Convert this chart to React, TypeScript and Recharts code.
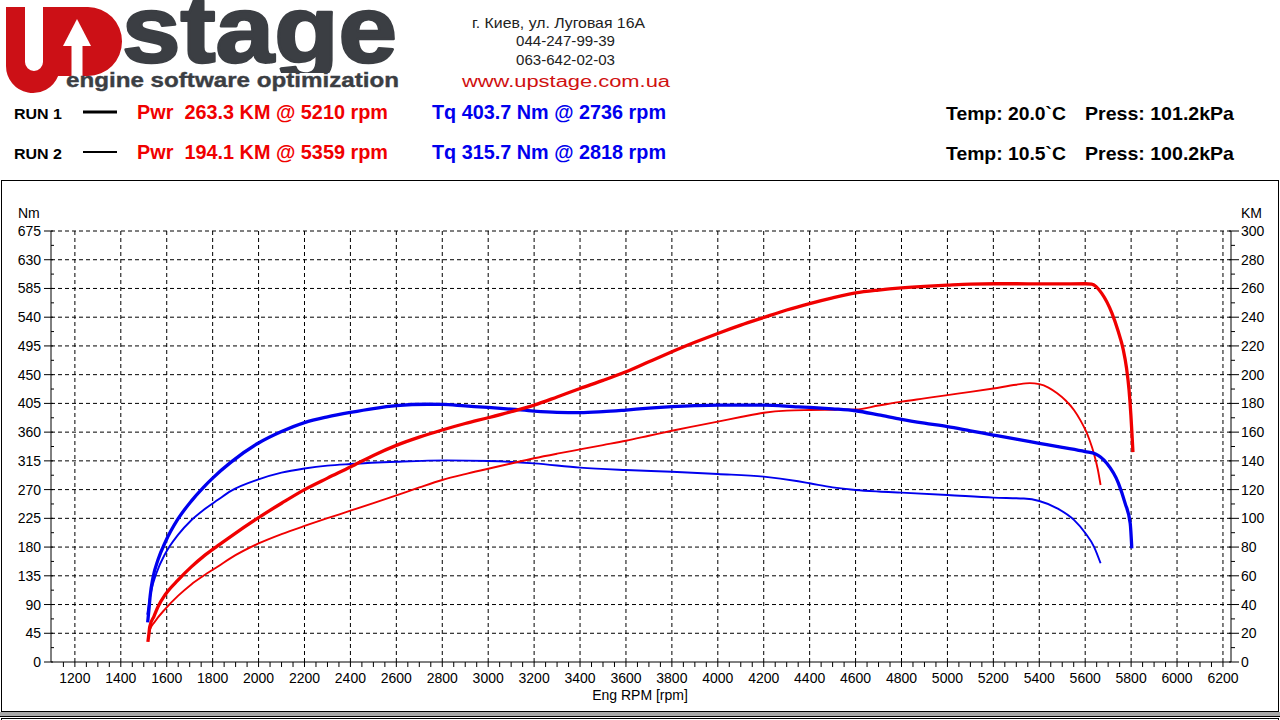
import React from 'react';
import { LineChart, Line, XAxis, YAxis, ReferenceLine } from 'recharts';

// ---------- data (rpm, value) ----------
const run1Torque: [number, number][] = [
  [1517, 62], [1522, 80], [1528, 104], [1540, 132], [1562, 160], [1594, 188], [1649, 224],
  [1707, 252], [1760, 273.5], [1800, 288], [1880, 313], [2000, 343], [2100, 361],
  [2200, 375], [2300, 384], [2400, 391], [2500, 397], [2600, 401.5], [2736, 403.7], [2800, 403.4],
  [2900, 401], [3000, 398.7], [3100, 396], [3200, 393], [3300, 391], [3400, 390.4], [3500, 392],
  [3600, 394.6], [3700, 397.5], [3800, 399.8], [3900, 401.5], [4000, 402.4], [4200, 402.4],
  [4350, 399.5], [4400, 398.7], [4500, 396.5], [4600, 393.5], [4700, 387], [4800, 380],
  [4900, 374], [5000, 368.5], [5100, 362], [5200, 355.5], [5300, 349], [5400, 342.5],
  [5500, 336], [5600, 329.4], [5645, 325.7], [5694, 311.2], [5745, 279.9], [5774, 248.5],
  [5796, 217.2], [5803, 178],
];

const run2Torque: [number, number][] = [
  [1515, 74], [1522, 90], [1533, 112], [1555, 139], [1594, 170], [1649, 199], [1707, 222],
  [1760, 238], [1823, 254], [1880, 268], [2000, 286], [2100, 296.5], [2200, 303], [2300, 307.5],
  [2400, 310], [2600, 313.5], [2818, 315.7], [3000, 314.8], [3200, 311], [3400, 304.4],
  [3600, 300.7], [3800, 298], [4000, 294.5], [4200, 290.3], [4350, 283], [4400, 279.9],
  [4500, 273.5], [4600, 269.4], [4700, 267], [4800, 265.3], [5000, 261.6], [5200, 257.4],
  [5333, 256], [5400, 252.2], [5478, 240.7], [5551, 222.5], [5601, 201.6], [5638, 180.8],
  [5667, 154.7],
];

const run1Power: [number, number][] = [
  [1518, 14], [1522, 19], [1526, 24.5], [1545, 32], [1562, 38.5], [1594, 47], [1649, 57],
  [1707, 66.2], [1760, 73.5], [1823, 81], [1880, 87.5], [2000, 100.5], [2100, 110.5],
  [2200, 120], [2300, 128], [2400, 135.7], [2500, 143.8], [2600, 150.8], [2700, 156.5],
  [2800, 161.5], [2900, 166], [3000, 170], [3100, 174.2], [3200, 178.8], [3300, 184.5],
  [3400, 190.4], [3500, 196], [3600, 202], [3700, 209], [3800, 215.9], [3900, 222.5],
  [4000, 228.7], [4100, 234.5], [4200, 239.8], [4300, 245], [4400, 249.5], [4500, 253.5],
  [4600, 256.9], [4700, 258.9], [4800, 260.4], [4900, 261.5], [5000, 262.3], [5100, 263],
  [5210, 263.3], [5300, 263.3], [5400, 263.2], [5500, 263.2], [5600, 263.3], [5628, 263],
  [5672, 256.6], [5716, 243], [5743, 230.5], [5765, 218], [5780, 204.6], [5791, 189.3],
  [5799, 171.9], [5804, 158], [5808, 146.1],
];

const run2Power: [number, number][] = [
  [1521, 17], [1526, 22], [1548, 28], [1594, 37], [1649, 46], [1707, 54], [1760, 60],
  [1823, 66.5], [1880, 72.5], [2000, 82.5], [2100, 89], [2200, 94.7], [2300, 100.1],
  [2400, 105.3], [2500, 110.6], [2600, 116], [2700, 121.5], [2800, 126.7],
  [2900, 130.8], [3000, 134.5], [3100, 138.2], [3200, 141.8], [3300, 145], [3400, 148],
  [3500, 151], [3600, 154], [3700, 157.5], [3800, 161], [3900, 164.2], [4000, 167.3],
  [4100, 170.5], [4200, 173.5], [4300, 175], [4400, 175.4], [4500, 175.6], [4600, 175.8],
  [4700, 178.5], [4800, 181.2], [4900, 183.5], [5000, 185.8], [5100, 188], [5200, 190.4],
  [5300, 193], [5359, 194.1], [5400, 193.4], [5440, 191], [5478, 187], [5515, 182],
  [5551, 175.4], [5580, 168], [5601, 161.5], [5620, 154], [5638, 145.2], [5655, 134],
  [5667, 123.2],
];

// ---------- ticks ----------
const xMajorTicks = [1200, 1400, 1600, 1800, 2000, 2200, 2400, 2600, 2800, 3000, 3200, 3400, 3600,
  3800, 4000, 4200, 4400, 4600, 4800, 5000, 5200, 5400, 5600, 5800, 6000, 6200];
const nmMajorTicks = [0, 45, 90, 135, 180, 225, 270, 315, 360, 405, 450, 495, 540, 585, 630, 675];
const kmMajorTicks = [0, 20, 40, 60, 80, 100, 120, 140, 160, 180, 200, 220, 240, 260, 280, 300];

const range = (a: number, b: number, step: number) => {
  const out: number[] = [];
  for (let i = 0; a + i * step <= b + 1e-9; i++) out.push(a + i * step);
  return out;
};
const xAllTicks = range(1150, 6200, 50);
const nmAllTicks = range(0, 675, 22.5);
const kmAllTicks = range(0, 300, 10);

// ---------- header texts ----------
const addressLines = ['г. Киев, ул. Луговая 16А', '044-247-99-39', '063-642-02-03'];
const website = 'www.upstage.com.ua';
const runLabels = ['RUN 1', 'RUN 2'];
const pwrLabels = ['Pwr  263.3 KM @ 5210 rpm', 'Pwr  194.1 KM @ 5359 rpm'];
const tqLabels = ['Tq 403.7 Nm @ 2736 rpm', 'Tq 315.7 Nm @ 2818 rpm'];
const tempLabels = ['Temp: 20.0`C', 'Temp: 10.5`C'];
const pressLabels = ['Press: 101.2kPa', 'Press: 100.2kPa'];

const FONT = '"Liberation Sans", Arial, Helvetica, sans-serif';
const RED = '#f00000';
const BLUE = '#0000ee';
const LOGO_GREY = '#3b3e43';

const toPts = (arr: [number, number][]) => arr.map(([rpm, v]) => ({ rpm, v }));

const XTick = (p: any) => {
  const { x, y, payload } = p;
  const major = xMajorTicks.includes(payload.value);
  return (
    <g>
      <line x1={x} y1={y} x2={x} y2={y + 5} stroke="#000" strokeWidth={1} />
      {major && (
        <text x={x} y={y + 21} textAnchor="middle" fontSize={14} fontFamily={FONT} fill="#000">
          {payload.value}
        </text>
      )}
    </g>
  );
};

const NmTick = (p: any) => {
  const { x, y, payload } = p;
  const major = nmMajorTicks.includes(payload.value);
  return (
    <g>
      {major ? (
        <line x1={x - 7} y1={y} x2={x + 2} y2={y} stroke="#000" strokeWidth={1} />
      ) : (
        <line x1={x} y1={y} x2={x + 3} y2={y} stroke="#000" strokeWidth={1} />
      )}
      {major && (
        <text x={x - 10} y={y + 5} textAnchor="end" fontSize={14} fontFamily={FONT} fill="#000">
          {payload.value}
        </text>
      )}
    </g>
  );
};

const KmTick = (p: any) => {
  const { x, y, payload } = p;
  const major = kmMajorTicks.includes(payload.value);
  return (
    <g>
      {major ? (
        <line x1={x - 2} y1={y} x2={x + 8} y2={y} stroke="#000" strokeWidth={1} />
      ) : (
        <line x1={x} y1={y} x2={x + 4} y2={y} stroke="#000" strokeWidth={1} />
      )}
      {major && (
        <text x={x + 10} y={y + 5} textAnchor="start" fontSize={14} fontFamily={FONT} fill="#000">
          {payload.value}
        </text>
      )}
    </g>
  );
};

const Header = () => (
  <svg width={1280} height={180} style={{ position: 'absolute', left: 0, top: 0 }}>
    <defs>
      <clipPath id="stageClip">
        <rect x={100} y={0} width={320} height={73} />
      </clipPath>
    </defs>
    {/* logo */}
    <path
      fill="#cc1016"
      d="M6 7 H25 V62 A9 9 0 0 0 43 62 V7 H88 A34 34.5 0 0 1 88 76 H58.1 A27 27 0 0 1 6 66 Z"
    />
    <polygon fill="#fff" points="77,19 63,46 91,46" />
    <rect fill="#fff" x={71.5} y={45} width={11} height={36} />
    <text
      x={122} y={62} fontSize={94} fontWeight="bold" fontFamily={FONT} fill={LOGO_GREY}
      stroke={LOGO_GREY} strokeWidth={2.5} strokeLinejoin="round"
      textLength={275} lengthAdjust="spacingAndGlyphs" clipPath="url(#stageClip)"
    >
      stage
    </text>
    <text
      x={66} y={87} fontSize={21} fontWeight="bold" fontFamily={FONT} fill={LOGO_GREY}
      stroke={LOGO_GREY} strokeWidth={0.4}
      textLength={333} lengthAdjust="spacingAndGlyphs"
    >
      engine software optimization
    </text>
    {/* address */}
    <text x={558.5} y={27.5} fontSize={15} fontFamily={FONT} fill="#222" textAnchor="middle"
      textLength={173} lengthAdjust="spacingAndGlyphs">{addressLines[0]}</text>
    <text x={565.5} y={46} fontSize={15} fontFamily={FONT} fill="#222" textAnchor="middle"
      textLength={99} lengthAdjust="spacingAndGlyphs">{addressLines[1]}</text>
    <text x={565.5} y={65} fontSize={15} fontFamily={FONT} fill="#222" textAnchor="middle"
      textLength={99} lengthAdjust="spacingAndGlyphs">{addressLines[2]}</text>
    <text x={566} y={86.5} fontSize={16} fontFamily={FONT} fill="#d01010" textAnchor="middle"
      textLength={208} lengthAdjust="spacingAndGlyphs">{website}</text>
    {/* run rows */}
    {[0, 1].map((i) => {
      const by = i === 0 ? 118.5 : 158.5;
      const ly = i === 0 ? 112 : 152;
      return (
        <g key={i}>
          <text x={14} y={by} fontSize={15.5} fontWeight="bold" fontFamily={FONT} fill="#000"
            textLength={48} lengthAdjust="spacingAndGlyphs">{runLabels[i]}</text>
          <line x1={83} x2={117} y1={ly} y2={ly} stroke="#000" strokeWidth={i === 0 ? 3 : 2} />
          <text x={137} y={by} fontSize={19.5} fontWeight="bold" fontFamily={FONT} fill={RED}
            textLength={251} lengthAdjust="spacingAndGlyphs" style={{ whiteSpace: 'pre' }}>{pwrLabels[i]}</text>
          <text x={432} y={by} fontSize={19.5} fontWeight="bold" fontFamily={FONT} fill={BLUE}
            textLength={234} lengthAdjust="spacingAndGlyphs">{tqLabels[i]}</text>
          <text x={946} y={by + 1} fontSize={19} fontWeight="bold" fontFamily={FONT} fill="#000"
            textLength={120} lengthAdjust="spacingAndGlyphs">{tempLabels[i]}</text>
          <text x={1085} y={by + 1} fontSize={19} fontWeight="bold" fontFamily={FONT} fill="#000"
            textLength={149} lengthAdjust="spacingAndGlyphs">{pressLabels[i]}</text>
        </g>
      );
    })}
  </svg>
);

export default function App() {
  return (
    <div style={{ position: 'absolute', left: 0, top: 0, width: 1280, height: 720, background: '#fff', overflow: 'hidden', fontFamily: FONT }}>
      <Header />
      {/* chart frame */}
      <div style={{ position: 'absolute', left: 1, top: 180, width: 1278, height: 532, border: '1px solid #000', boxSizing: 'border-box' }} />
      <div style={{ position: 'absolute', left: 0, top: 712, width: 1280, height: 4, background: '#a8a8a8' }} />
      <div style={{ position: 'absolute', left: 0, top: 716, width: 1280, height: 1, background: '#000' }} />
      <div style={{ position: 'absolute', left: 1, top: 718, width: 1278, height: 4, borderTop: '1px solid #000', borderLeft: '1px solid #000', borderRight: '1px solid #000', boxSizing: 'border-box' }} />
      {/* axis titles */}
      <div style={{ position: 'absolute', left: 18, top: 205, fontSize: 14, color: '#000' }}>Nm</div>
      <div style={{ position: 'absolute', left: 1241, top: 205, fontSize: 14, color: '#000' }}>KM</div>
      <div style={{ position: 'absolute', left: 0, width: 1280, textAlign: 'center', top: 687, fontSize: 14, color: '#000' }}>Eng RPM [rpm]</div>
      <div style={{ position: 'absolute', left: 0, top: 180 }}>
        <LineChart width={1280} height={532} margin={{ top: 51, right: 0, bottom: 0, left: 0 }}>
          <XAxis
            xAxisId={0}
            type="number"
            dataKey="rpm"
            domain={[1096, 6235]}
            ticks={xAllTicks}
            interval={0}
            height={50}
            tickSize={0}
            tickMargin={0}
            tickLine={false}
            axisLine={{ stroke: '#000', strokeWidth: 1 }}
            tick={(p: any) => <XTick {...p} />}
            allowDataOverflow
          />
          <YAxis
            yAxisId="nm"
            orientation="left"
            type="number"
            domain={[0, 675]}
            ticks={nmAllTicks}
            interval={0}
            width={51}
            tickSize={0}
            tickMargin={0}
            tickLine={false}
            axisLine={{ stroke: '#000', strokeWidth: 1 }}
            tick={(p: any) => <NmTick {...p} />}
            allowDataOverflow
          />
          <YAxis
            yAxisId="km"
            orientation="right"
            type="number"
            domain={[0, 300]}
            ticks={kmAllTicks}
            interval={0}
            width={49}
            tickSize={0}
            tickMargin={0}
            tickLine={false}
            axisLine={{ stroke: '#000', strokeWidth: 1 }}
            tick={(p: any) => <KmTick {...p} />}
            allowDataOverflow
          />
          {nmMajorTicks.filter((v) => v > 0).map((v) => (
            <ReferenceLine key={'h' + v} yAxisId="nm" y={v} stroke="#000" strokeWidth={1} strokeDasharray="4 3" />
          ))}
          {xMajorTicks.map((v) => (
            <ReferenceLine key={'v' + v} yAxisId="nm" x={v} stroke="#000" strokeWidth={1} strokeDasharray="4 3" />
          ))}
          <Line data={toPts(run2Torque)} yAxisId="nm" dataKey="v" type="monotone" stroke={BLUE} strokeWidth={1.9} dot={false} isAnimationActive={false} />
          <Line data={toPts(run2Power)} yAxisId="km" dataKey="v" type="monotone" stroke={RED} strokeWidth={1.9} dot={false} isAnimationActive={false} />
          <Line data={toPts(run1Torque)} yAxisId="nm" dataKey="v" type="monotone" stroke={BLUE} strokeWidth={3.3} dot={false} isAnimationActive={false} />
          <Line data={toPts(run1Power)} yAxisId="km" dataKey="v" type="monotone" stroke={RED} strokeWidth={3.3} dot={false} isAnimationActive={false} />
        </LineChart>
      </div>
    </div>
  );
}
